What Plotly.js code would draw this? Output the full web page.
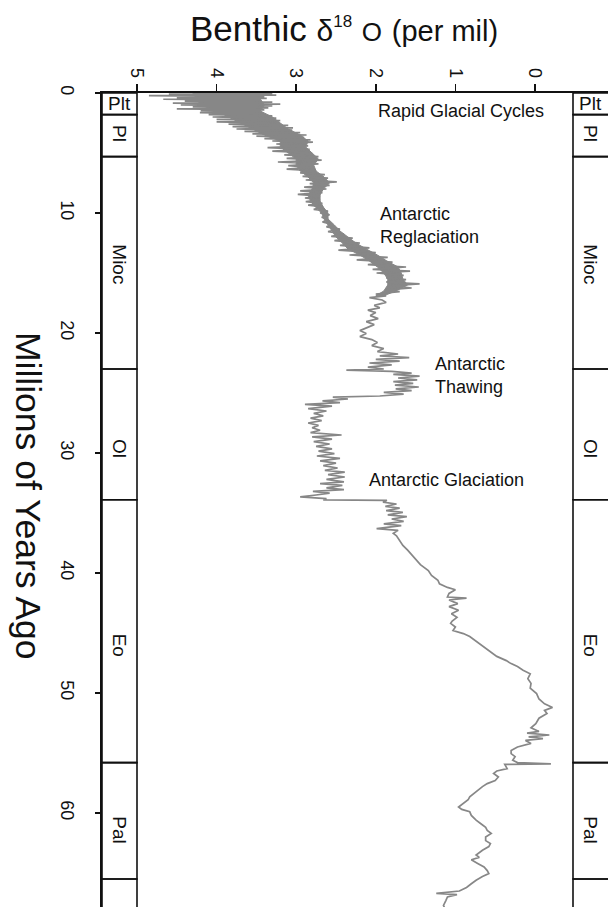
<!DOCTYPE html>
<html><head><meta charset="utf-8">
<script src="https://cdn.plot.ly/plotly-3.0.1.min.js"></script>
<style>html,body{margin:0;padding:0;background:#fff;overflow:hidden}</style>
</head><body><div id="chart" style="width:608px;height:907px"></div>
<script>
// ---------- DATA ----------
const ageMa = [
 0.00,0.05,0.10,0.17,0.22,0.30,0.38,0.45,0.52,0.60,0.68,0.76,0.84,0.92,1.00,1.08,1.16,1.24,1.32,1.40,
 1.48,1.56,1.64,1.72,1.80,1.90,2.00,2.10,2.20,2.30,2.40,2.50,2.60,2.70,2.80,2.90,3.00,3.10,3.20,3.30,
 3.40,3.50,3.60,3.70,3.80,3.90,4.00,4.10,4.25,4.40,4.55,4.70,4.85,5.00,5.15,5.30,5.45,5.60,5.75,5.90,
 6.05,6.20,6.35,6.50,6.65,6.80,6.95,7.10,7.25,7.40,7.55,7.70,7.85,8.00,8.15,8.30,8.45,8.60,8.75,8.90,
 9.05,9.20,9.35,9.50,9.70,9.85,10.00,10.15,10.35,10.55,10.75,10.95,11.15,11.35,11.55,11.75,11.95,12.10,12.30,12.50,
 12.70,12.90,13.10,13.30,13.50,13.70,13.90,14.10,14.30,14.50,14.70,14.85,15.00,15.20,15.40,15.55,15.75,15.90,16.05,16.25,
 16.40,16.55,16.75,16.90,17.05,17.25,17.45,17.70,17.90,18.10,18.30,18.55,18.80,19.05,19.30,19.55,19.80,20.05,20.30,20.55,
 20.80,21.05,21.30,21.55,21.75,21.90,22.05,22.20,22.35,22.50,22.65,22.85,23.00,23.10,23.20,23.35,23.45,23.60,23.75,23.90,
 24.05,24.20,24.35,24.50,24.65,24.80,24.95,25.10,25.25,25.35,25.50,25.65,25.80,25.95,26.10,26.30,26.50,26.70,26.90,27.10,
 27.30,27.50,27.70,27.90,28.10,28.30,28.50,28.65,28.85,29.05,29.25,29.45,29.65,29.85,30.05,30.25,30.45,30.65,30.85,31.05,
 31.25,31.45,31.60,31.80,32.00,32.20,32.40,32.55,32.70,32.90,33.05,33.20,33.35,33.50,33.65,33.80,33.90,33.95,34.10,34.25,
 34.45,34.60,34.80,34.95,35.15,35.30,35.50,35.70,35.90,36.05,36.30,36.45,36.70,36.90,37.30,37.70,38.10,38.50,38.90,39.30,
 39.80,40.20,40.60,40.90,41.20,41.40,41.70,42.00,42.10,42.25,42.55,42.80,43.10,43.40,43.70,44.00,44.20,44.50,44.80,45.05,
 45.30,45.60,45.90,46.25,46.60,46.95,47.30,47.55,47.80,48.10,48.40,48.80,49.20,49.60,50.05,50.50,50.90,51.20,51.45,51.70,
 52.10,52.55,52.90,53.20,53.35,53.50,53.65,53.80,53.95,54.20,54.50,54.80,55.05,55.30,55.60,55.80,55.90,55.95,56.30,56.50,
 56.70,57.00,57.30,57.55,57.80,58.10,58.40,58.65,58.90,59.20,59.50,59.70,59.90,60.20,60.60,60.90,61.20,61.45,61.70,62.00,
 62.30,62.55,62.80,63.10,63.50,63.70,63.90,64.20,64.50,64.80,65.05,65.30,65.60,65.90,66.20,66.50,66.70,66.80,67.00,67.30,
 67.70,68.00
];
const d18O = [
 4.20,3.30,4.60,3.25,4.85,3.40,4.50,3.37,4.67,3.45,4.40,3.30,4.55,3.20,4.45,3.30,4.30,3.35,4.50,3.40,
 4.20,3.45,4.21,3.42,4.10,3.30,4.05,3.25,4.00,3.20,4.00,3.25,3.85,3.10,3.80,3.04,3.75,3.05,3.65,2.95,
 3.55,2.87,3.50,2.90,3.40,2.82,3.30,2.79,3.25,2.85,3.36,2.83,3.30,2.80,3.15,2.72,3.12,2.68,3.23,2.72,
 3.10,2.81,3.12,2.75,2.95,2.64,2.92,2.60,2.88,2.49,2.83,2.58,2.90,2.62,2.95,2.67,2.98,2.70,2.89,2.70,
 2.88,2.67,2.85,2.66,2.78,2.60,2.70,2.58,2.68,2.60,2.67,2.55,2.62,2.45,2.60,2.40,2.56,2.29,2.52,2.20,
 2.45,2.08,2.47,2.00,2.33,1.85,2.24,1.79,2.10,1.62,2.04,1.57,1.99,1.65,1.87,1.62,1.87,1.45,1.80,1.55,
 1.87,1.70,2.00,1.87,2.08,1.92,1.87,2.02,1.95,2.10,2.00,2.07,1.97,2.12,2.02,2.10,2.20,2.12,2.20,2.05,
 1.98,2.05,1.90,1.98,1.72,1.95,1.58,2.00,1.70,2.08,1.80,2.10,1.90,2.37,1.80,1.55,1.78,1.45,1.72,1.48,
 1.78,1.53,1.76,1.46,1.75,1.55,1.90,1.65,1.95,2.54,2.35,2.67,2.45,2.89,2.55,2.85,2.62,2.78,2.66,2.82,
 2.68,2.85,2.72,2.80,2.70,2.82,2.43,2.80,2.55,2.78,2.58,2.75,2.55,2.72,2.52,2.74,2.45,2.70,2.50,2.66,
 2.48,2.64,2.39,2.60,2.39,2.62,2.40,2.70,2.42,2.62,2.40,2.79,2.58,2.75,2.95,2.62,2.66,1.86,1.91,1.74,
 1.88,1.70,1.87,1.66,1.85,1.61,1.80,1.65,1.90,1.68,1.99,1.72,1.78,1.74,1.70,1.66,1.60,1.55,1.49,1.44,
 1.34,1.30,1.22,1.20,1.10,1.00,1.08,1.10,0.86,1.08,0.97,1.08,0.96,1.05,0.98,1.04,1.06,1.00,1.03,0.90,
 0.82,0.76,0.70,0.63,0.56,0.48,0.36,0.30,0.22,0.15,0.06,0.09,0.05,0.06,-0.02,-0.05,-0.12,-0.22,-0.12,-0.15,
 -0.05,-0.01,0.05,-0.05,0.10,-0.18,0.08,-0.10,0.12,0.05,0.22,0.30,0.30,0.25,0.28,0.22,-0.20,0.38,0.35,0.48,
 0.52,0.46,0.50,0.60,0.66,0.72,0.78,0.82,0.84,0.90,0.96,0.92,0.82,0.80,0.74,0.68,0.62,0.60,0.55,0.62,
 0.62,0.56,0.58,0.66,0.74,0.70,0.80,0.72,0.64,0.60,0.58,0.66,0.74,0.80,0.86,0.95,1.24,0.98,1.10,1.12,
 1.15,1.13
];
// solid core of the dense high-frequency band (0–17 Ma)
const coreAge   = [0.0,0.5,1.0,1.5,2.0,2.5,3.0,3.5,4.0,4.5,5.0,5.5,6.0,6.5,7.0,7.5,8.0,8.5,9.0,9.5,
                   10.0,10.5,11.0,11.5,12.0,12.5,13.0,13.5,14.0,14.5,15.0,15.5,16.0,16.5,16.9];
const coreHeavy = [4.30,4.25,4.20,4.00,3.85,3.70,3.55,3.40,3.20,3.20,3.10,3.00,3.00,2.95,2.85,2.78,2.80,2.85,2.82,2.76,
                   2.68,2.65,2.60,2.55,2.50,2.42,2.35,2.20,2.08,1.98,1.90,1.85,1.85,1.90,2.00];
const coreLight = [3.40,3.45,3.40,3.45,3.30,3.20,3.10,2.95,2.85,2.88,2.80,2.72,2.78,2.75,2.65,2.58,2.66,2.70,2.70,2.66,
                   2.60,2.60,2.52,2.45,2.35,2.25,2.12,1.98,1.86,1.72,1.68,1.66,1.60,1.75,1.90];
const xTickVals = [5, 4, 3, 2, 1, 0];
const yTickVals = [0, 10, 20, 30, 40, 50, 60];
const epochNames = ['Plt', 'Pl', 'Mioc', 'Ol', 'Eo', 'Pal'];
const epochBounds = [0, 1.8, 5.3, 23.0, 33.9, 55.8, 65.5];
const noteText = ['Rapid Glacial Cycles', 'Antarctic<br>Reglaciation', 'Antarctic<br>Thawing', 'Antarctic Glaciation'];
const noteAge = [1.5, 11.04, 23.54, 32.28];
const noteD18O = [1.997, 1.969, 1.285, 2.114];

// ---------- LAYOUT ----------
const FONT = 'Liberation Sans, Arial, sans-serif';
const INK = '#111111';
const GRAY = '#878787';
const W = 608, H = 907, ML = 102, MT = 93;
const PW = W - ML, PH = H - MT;
const PXU = 79.6;                 // px per per-mil
const X5 = 35;                    // px from plot left to the 5 tick
const xRange = [5 + X5 / PXU, 5 - (PW - X5) / PXU];
const yRange = [PH / 12.0, 0];

const boxW = 35 / PW;
const rightX0 = (573 - ML) / PW;
const shapes = [];
const allB = epochBounds.concat([70]);
for (let i = 0; i < allB.length - 1; i++) {
  shapes.push({type:'rect', xref:'paper', yref:'y', x0:0, x1:boxW, y0:allB[i], y1:allB[i+1],
    line:{color:INK, width:1.6}, fillcolor:'rgba(0,0,0,0)', layer:'above'});
  shapes.push({type:'rect', xref:'paper', yref:'y', x0:rightX0, x1:1.05, y0:allB[i], y1:allB[i+1],
    line:{color:INK, width:1.6}, fillcolor:'rgba(0,0,0,0)', layer:'above'});
}

const labelShift = [0, 2, -1, -14, -14, -9];
const annotations = [];
epochNames.forEach((n, i) => {
  const mid = (epochBounds[i] + epochBounds[i+1]) / 2;
  [boxW / 2, (590.5 - ML) / PW].forEach(px => {
    annotations.push({text:n, xref:'paper', yref:'y', x:px, y:mid, yshift:labelShift[i],
      showarrow:false, textangle: i === 0 ? 0 : 90, xanchor:'center', yanchor:'middle',
      font:{family:FONT, size:19, color:INK}});
  });
});
noteText.forEach((t, i) => {
  annotations.push({text:t, xref:'x', yref:'y', x:noteD18O[i], y:noteAge[i], showarrow:false,
    xanchor:'left', yanchor:'middle', align:'left', font:{family:FONT, size:18, color:INK}});
});
annotations.push({text:'Millions of Years Ago', xref:'paper', yref:'paper',
  x:(28 - ML) / PW, y:1 - (496 - MT) / PH, showarrow:false, textangle:90,
  xanchor:'center', yanchor:'middle', font:{family:FONT, size:35.5, color:INK}});

const data = [
  {
    type:'scatter', mode:'lines', fill:'toself', fillcolor:GRAY,
    x:coreHeavy.concat(coreLight.slice().reverse()),
    y:coreAge.concat(coreAge.slice().reverse()),
    line:{color:GRAY, width:1}, hoverinfo:'skip', showlegend:false
  },
  {
    type:'scatter', mode:'lines', x:d18O, y:ageMa,
    line:{color:GRAY, width:1.7}, hoverinfo:'skip', showlegend:false
  }
];

const layout = {
  width:W, height:H, margin:{l:ML, r:0, t:MT, b:0, pad:0},
  paper_bgcolor:'#ffffff', plot_bgcolor:'#ffffff', showlegend:false,
  title:{
    text:"Benthic <span style='font-size:30px'>δ</span><sup><span style='font-size:17px'>18</span></sup> <span style='font-size:26px'>O</span> <span style='font-size:29px'>(per mil)</span>",
    font:{family:FONT, size:35, color:INK},
    xref:'container', yref:'container', x:190 / W, xanchor:'left', y:1 - 29 / H, yanchor:'middle'
  },
  xaxis:{
    side:'top', range:xRange, tickvals:xTickVals, ticktext:xTickVals.map(String),
    showgrid:false, zeroline:false, showline:true, linecolor:INK, linewidth:1.6,
    ticks:'outside', ticklen:7, tickwidth:1.6, tickcolor:INK, tickangle:90,
    tickfont:{family:FONT, size:18, color:INK}, fixedrange:true
  },
  yaxis:{
    range:yRange, tickvals:yTickVals, ticktext:yTickVals.map(String),
    showgrid:false, zeroline:false, showline:true, linecolor:INK, linewidth:1.6,
    ticks:'outside', ticklen:5, tickwidth:1.6, tickcolor:INK, tickangle:90,
    ticklabelstandoff:13,
    tickfont:{family:FONT, size:18, color:INK}, fixedrange:true
  },
  shapes:shapes, annotations:annotations
};
Plotly.newPlot('chart', data, layout, {staticPlot:true, displayModeBar:false});
</script></body></html>
